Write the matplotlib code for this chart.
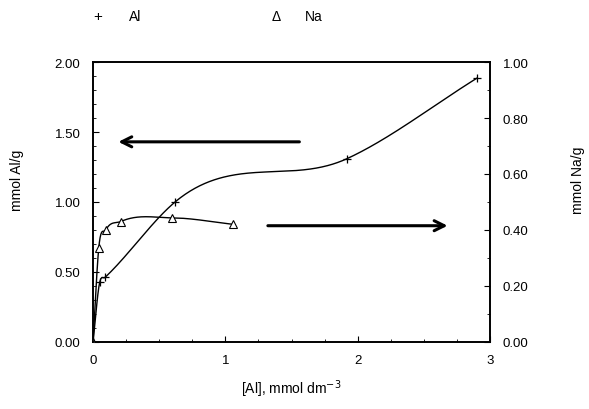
import numpy as np
import matplotlib.pyplot as plt
from matplotlib.ticker import MultipleLocator, FormatStrFormatter

plt.rcParams['font.family'] = ['Liberation Sans', 'DejaVu Sans']

# --- DATA ---
al_x = [0.0, 0.05, 0.09, 0.62, 1.92, 2.90]
al_y = [0.0, 0.425, 0.46, 1.00, 1.31, 1.885]

na_x = [0.0, 0.043, 0.097, 0.21, 0.60, 1.06]
na_y = [0.0, 0.335, 0.40, 0.43, 0.443, 0.42]


def smooth_curve(x, y, n=400):
    # cubic Hermite curve, tangents from weighted neighbouring secants
    x = np.asarray(x, float)
    y = np.asarray(y, float)
    h = np.diff(x)
    d = np.diff(y) / h
    m = np.empty_like(y)
    m[0] = d[0]
    m[-1] = d[-1]
    m[1:-1] = (h[1:] * d[:-1] + h[:-1] * d[1:]) / (h[:-1] + h[1:])
    xs = np.linspace(x[0], x[-1], n)
    i = np.clip(np.searchsorted(x, xs) - 1, 0, len(x) - 2)
    t = (xs - x[i]) / h[i]
    h00 = 2 * t**3 - 3 * t**2 + 1
    h10 = t**3 - 2 * t**2 + t
    h01 = -2 * t**3 + 3 * t**2
    h11 = t**3 - t**2
    ys = h00 * y[i] + h10 * h[i] * m[i] + h01 * y[i + 1] + h11 * h[i] * m[i + 1]
    return xs, ys


fig = plt.figure(figsize=(5.89, 4.10), dpi=100)
ax = fig.add_axes([0.158, 0.164, 0.674, 0.682])
ax2 = ax.twinx()

sx, sy = smooth_curve(al_x, al_y)
ax.plot(sx, sy, color='black', lw=1.0)
ax.plot(al_x, al_y, ls='none', marker='+', ms=6, mew=0.9, color='black')

nx, ny = smooth_curve(na_x, na_y)
ax2.plot(nx, ny, color='black', lw=1.0)
ax2.plot(na_x, na_y, ls='none', marker='^', ms=6, mfc='white', mec='black', mew=0.8)

ax.set_xlim(0, 3)
ax.set_ylim(0, 2)
ax2.set_ylim(0, 1)

ax.xaxis.set_major_locator(MultipleLocator(1))
ax.xaxis.set_minor_locator(MultipleLocator(0.25))
ax.yaxis.set_major_locator(MultipleLocator(0.5))
ax.yaxis.set_minor_locator(MultipleLocator(0.1))
ax.yaxis.set_major_formatter(FormatStrFormatter('%.2f'))
ax2.yaxis.set_major_locator(MultipleLocator(0.2))
ax2.yaxis.set_minor_locator(MultipleLocator(0.1))
ax2.yaxis.set_major_formatter(FormatStrFormatter('%.2f'))

for a in (ax, ax2):
    a.tick_params(which='major', direction='in', length=4, width=0.8, labelsize=9.5, pad=9)
    a.tick_params(which='minor', direction='in', length=2, width=0.6)
    for s in a.spines.values():
        s.set_linewidth(1.2)
ax.tick_params(axis='y', right=False)

ax.set_xlabel('[Al], mmol dm$^{-3}$', fontsize=10)
ax.set_ylabel('mmol Al/g', fontsize=10)
ax2.set_ylabel('mmol Na/g', fontsize=10)
ax.xaxis.set_label_coords(0.5, -0.128)
ax.yaxis.set_label_coords(-0.175, 0.58)
ax2.yaxis.set_label_coords(1.205, 0.58)

# arrows showing which axis each curve belongs to
ax.annotate('', xy=(0.17, 1.43), xytext=(1.58, 1.43),
            arrowprops=dict(arrowstyle='->', lw=2.2, color='black', mutation_scale=18))
ax.annotate('', xy=(2.70, 0.83), xytext=(1.30, 0.83),
            arrowprops=dict(arrowstyle='->', lw=2.2, color='black', mutation_scale=18))

# legend written as text above the plot
fig.text(0.166, 0.958, '+', fontsize=11, ha='center', va='center')
fig.text(0.229, 0.958, 'Al', fontsize=10, ha='center', va='center')
fig.text(0.469, 0.958, '\u0394', fontsize=10, ha='center', va='center')
fig.text(0.533, 0.958, 'Na', fontsize=10, ha='center', va='center')

plt.savefig('out.png', dpi=100)
